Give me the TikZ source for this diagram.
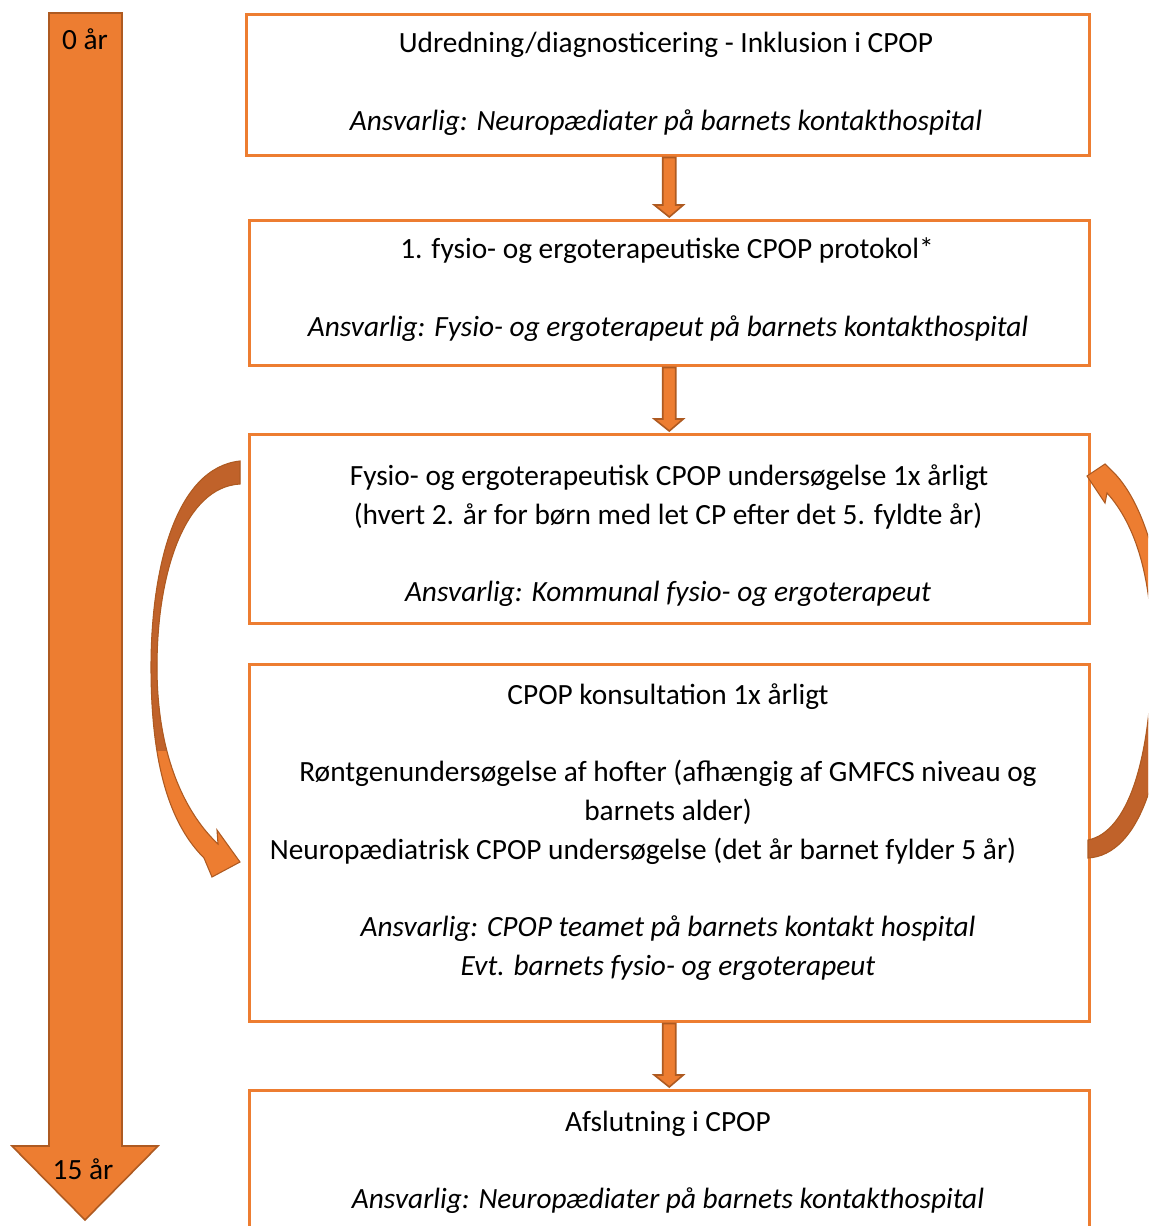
\documentclass[tikz,border=0pt]{standalone}
\usepackage{fontspec}
\setmainfont{Carlito}
\usetikzlibrary{calc}
\definecolor{orng}{HTML}{ED7D31}
\definecolor{orngdk}{HTML}{AE5A21}
\definecolor{orngsh}{HTML}{C0622A}
\def\larrowpath{(240,461) .. controls (175,468) and (151,570) .. (151,667) .. controls (151,770) and (172,826) .. (204,858) -- (212,877) -- (240,862) -- (217,830) -- (218,844) .. controls (188,816) and (157,760) .. (157,667) .. controls (157,572) and (185,487) .. (240,484) -- cycle}
\def\rarrowpath{(1088,840) .. controls (1128,832) and (1150,760) .. (1152,660) .. controls (1153,580) and (1136,525) .. (1107,493) -- (1105,503) -- (1087,476) -- (1105,464) -- (1110,469) .. controls (1145,500) and (1166,580) .. (1166,660) .. controls (1166,770) and (1140,855) .. (1088,858) -- cycle}
\tikzset{
  box/.style={draw=orng, line width=1.9pt, anchor=north west, minimum width=630pt, inner sep=0pt},
  txt/.style={anchor=base, inner sep=0pt, font=\fontsize{22}{29.25}\selectfont},
  itxt/.style={txt, font=\fontsize{22}{29.25}\selectfont\itshape},
  arr/.style={fill=orng, draw=orngdk, line width=1.2pt, line join=miter},
}
\begin{document}
\begin{tikzpicture}[x=0.75pt, y=-0.75pt]
\clip (0,0) rectangle (1148,1226);
\fill[white] (0,0) rectangle (1148,1226);
% time arrow
\draw[arr] (49,13) -- (122,13) -- (122,1146) -- (158,1146) -- (85,1220) -- (12,1146) -- (49,1146) -- cycle;
\node[txt] (y0) at (85,50) {0 år};
\node[txt] (y15) at (83,1179) {15 år};
% boxes
\node[box, minimum width=632.25pt, minimum height=105.75pt] (b1) at (245,13) {};
\node[box, minimum height=108.75pt] (b2) at (248,219) {};
\node[box, minimum height=141.75pt] (b3) at (248,433) {};
\node[box, minimum height=267.75pt] (b4) at (248,663) {};
\node[box, minimum height=130pt] (b5) at (248,1089) {};
% texts
\node[txt] (t1a) at (666,53) {Udredning/diagnosticering - Inklusion i CPOP};
\node[itxt] (t1b) at (666,131) {Ansvarlig: Neuropædiater på barnets kontakthospital};
\node[txt] (t2a) at (667,259) {1. fysio- og ergoterapeutiske CPOP protokol*};
\node[itxt] (t2b) at (668,337) {Ansvarlig: Fysio- og ergoterapeut på barnets kontakthospital};
\node[txt] (t3a) at (669,485) {Fysio- og ergoterapeutisk CPOP undersøgelse 1x årligt};
\node[txt] (t3b) at (668,524) {(hvert 2. år for børn med let CP efter det 5. fyldte år)};
\node[itxt] (t3c) at (668,601) {Ansvarlig: Kommunal fysio- og ergoterapeut};
\node[txt] (t4a) at (668,704) {CPOP konsultation 1x årligt};
\node[txt] (t4b) at (668,781) {Røntgenundersøgelse af hofter (afhængig af GMFCS niveau og};
\node[txt] (t4c) at (668,820) {barnets alder)};
\node[txt] (t4d) at (643,859) {Neuropædiatrisk CPOP undersøgelse (det år barnet fylder 5 år)};
\node[itxt] (t4e) at (668,936) {Ansvarlig: CPOP teamet på barnets kontakt hospital};
\node[itxt] (t4f) at (668,975) {Evt. barnets fysio- og ergoterapeut};
\node[txt] (t5a) at (668,1131) {Afslutning i CPOP};
\node[itxt] (t5b) at (668,1208) {Ansvarlig: Neuropædiater på barnets kontakthospital};
% small down arrows
\foreach \a/\b/\hb in {b1/b2/14, b2/b3/14, b4/b5/14}{
  \path (\a.south-|\b.north) coordinate (s) (\b.north) coordinate (e);
  \draw[arr] ($(s)+(-6.5,1)$) -- ($(e)+(-6.5,-\hb)$) -- ($(e)+(-15,-\hb)$) -- ($(e)+(0,-2)$) -- ($(e)+(14,-\hb)$) -- ($(e)+(6.5,-\hb)$) -- ($(s)+(6.5,1)$) -- cycle;
}
% curved arrows
\fill[orng] \larrowpath;
\begin{scope}
  \clip (0,0) rectangle (300,750);
  \fill[orngsh] \larrowpath;
\end{scope}
\draw[orngdk, line width=0.8pt] \larrowpath;
\fill[orng] \rarrowpath;
\begin{scope}
  \clip (1000,700) rectangle (1200,900);
  \fill[orngsh] \rarrowpath;
\end{scope}
\draw[orngdk, line width=0.8pt] \rarrowpath;
\end{tikzpicture}
\end{document}
